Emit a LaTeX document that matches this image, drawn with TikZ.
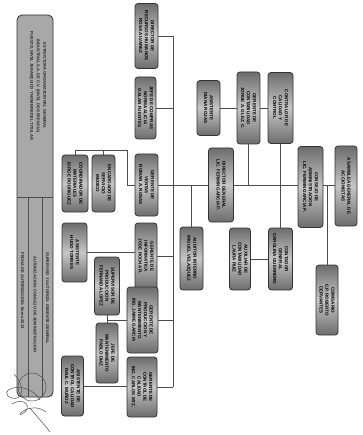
\documentclass[tikz,border=0pt]{standalone}
\usepackage{fontspec}
\setmainfont{Liberation Sans}
\usepackage{xcolor}
\colorlet{myedge}{black!80}
\colorlet{mydark}{gray!85!black}
\colorlet{mylight}{gray!45}
\colorlet{myline}{black!70}
\tikzset{
  caja/.style={rotate=-90,rounded corners=3pt,draw=myedge,thick,
    top color=mydark,bottom color=mydark,middle color=mylight,
    align=center,inner sep=1pt,text=black,
    font=\fontsize{4.5}{5.8}\selectfont\bfseries},
  marco/.style={rotate=-90,rounded corners=5pt,draw=myedge,thick,fill=gray!68},
  rotulo/.style={rotate=-90,align=center,inner sep=0.5pt,text=black!85,
    font=\fontsize{4}{6.5}\selectfont\bfseries},
  linea/.style={thick,myline},
  firma/.style={gray!60!black,line width=0.5pt}
}

\begin{document}
\begin{tikzpicture}[x=1pt,y=-1pt]
    \useasboundingbox (0,0) rectangle (362,435);
    % title block
    \node[marco,minimum width=382,minimum height=36] (bloque) at (35,206) {};
    \draw[linea] (17,197) -- (53,197);
    \draw[linea] (28,197) -- (28,397);
    \draw[linea] (42,197) -- (42,397);
    \node[rotulo] (titulo) at (38,86) {ESTRUCTURA ORGANIZACIONAL GENERAL\\INDUSTRIAL S.A. DE C.V. (NIVEL DE GERENCIA)\\PUESTO, NIVEL JERARQUICO Y NOMBRE DEL TITULAR};
    \node[rotulo,anchor=west] (superviso) at (47.5,252) {SUPERVISO Y AUTORIZO: GERENTE GENERAL};
    \node[rotulo,anchor=west] (autorizo) at (35,256) {AUTORIZACION: CONSEJO DE ADMINISTRACION};
    \node[rotulo,anchor=west] (fecha) at (22.5,252) {FECHA DE AUTORIZACION: Enero 2013};

    % top level
    \node[caja,minimum width=80,minimum height=22] (asamblea) at (346,186) {ASAMBLEA GENERAL DE\\ACCIONISTAS};
    \node[caja,minimum width=81,minimum height=25] (consejo) at (310.5,187) {CONSEJO DE\\ADMINISTRACION\\LIC. FERMIN GARCIA P.};
    \node[caja,minimum width=70,minimum height=22] (comisario) at (327,300) {COMISARIO\\C.P. ROBERTO\\CERVANTES};
    \node[caja,minimum width=74,minimum height=25] (dg) at (221,185) {DIRECTOR GENERAL\\LIC. FERMIN GARCIA P.};

    % staff
    \node[caja,minimum width=55,minimum height=23] (asist) at (208.5,108) {ASISTENTE\\DIANA ROJAS};
    \node[caja,minimum width=72,minimum height=23] (conta) at (248.5,108) {GERENTE DE\\CONTABILIDAD\\JORGE A. GLEZ. C.};
    \node[caja,minimum width=71,minimum height=25] (contral) at (280.5,108) {CONTRALOR DE\\CALIDAD Y\\CONTROL};
    \node[caja,minimum width=62,minimum height=24] (contador) at (280.5,259) {CONTADOR\\GENERAL\\CAROLINA GUERRERO};
    \node[caja,minimum width=62,minimum height=21] (auxconta) at (240,259) {AUXILIAR DE\\CONTABILIDAD\\LAURA RUIZ};
    \node[caja,minimum width=63,minimum height=23] (auditor) at (191.5,258.5) {AUDITOR INTERNO\\MIGUEL VELAZQUEZ};

    % managers
    \node[caja,minimum width=65,minimum height=23] (rh) at (146.5,36) {DIRECTOR DE\\RECURSOS HUMANOS\\ROSA ALVAREZ};
    \node[caja,minimum width=62,minimum height=21] (compras) at (145.5,108) {JEFE DE COMPRAS\\NORMA ALICIA\\GALAN FUENTES};
    \node[caja,minimum width=62,minimum height=23] (ventas) at (146.5,185) {GERENTE DE\\VENTAS\\ROMAN A. ROSAS};
    \node[caja,minimum width=67,minimum height=22] (informatica) at (146,256.5) {GERENTE DE\\INFORMATICA\\JOSE ROCHA R.};
    \node[caja,minimum width=66,minimum height=31] (produccion) at (142.5,320) {GERENTE DE\\PRODUCCION Y\\MANTENIMIENTO\\ING. JAIME GARCIA};
    \node[caja,minimum width=60,minimum height=30] (calidad) at (142,387) {GERENTE DE\\CONTROL DE\\CALIDAD\\ING. CARLOS MTZ.};

    % lower level
    \node[caja,minimum width=57,minimum height=26] (recmat) at (75,183.5) {COORDINADOR DE\\MATERIALES\\JORGE RODRIGUEZ};
    \node[caja,minimum width=57,minimum height=23] (medico) at (103.5,183.5) {ENCARGADO DE\\SERVICIO\\MEDICO};
    \node[caja,minimum width=59,minimum height=25] (asisinf) at (74.5,252.5) {ASISTENTE\\HUGO TORRES};
    \node[caja,minimum width=58,minimum height=25] (superv) at (107,286) {SUPERVISOR DE\\PRODUCCION\\FERNANDA LOPEZ};
    \node[caja,minimum width=60,minimum height=22] (mantto) at (107,353) {JEFE DE\\MANTENIMIENTO\\PABLO DIAZ};
    \node[caja,minimum width=60,minimum height=22] (asiscal) at (72.5,386) {ASISTENTE DE\\CONTROL CALIDAD\\RAUL C. MU\~NOZ};

    % connectors
    \coordinate (eje) at (0,185);
    \coordinate (troncoA) at (173,36);
    \coordinate (troncoB) at (173,387);
    \coordinate (rama) at (127,150);
    \coordinate (ramaP) at (107,320);
    \draw[linea] (troncoA) -- (troncoB);
    \draw[linea] (rh.north) -- (rh.north -| troncoA);
    \draw[linea] (compras.north) -- (compras.north -| troncoA);
    \draw[linea] (informatica.north) -- (informatica.north -| troncoA);
    \draw[linea] (produccion.north) -- (produccion.north -| troncoA);
    \draw[linea] (calidad.north) -- (calidad.north -| troncoA);
    \draw[linea] (ventas.north) -- (dg.south);
    \draw[linea] (dg.north) -- (consejo.south |- eje);
    \draw[linea] (consejo.north |- eje) -- (asamblea.south |- eje);
    \draw[linea] (comisario.west) -- (comisario.west |- eje);
    \draw[linea] (auditor.west) -- (auditor.west |- eje);
    \draw[linea] (conta.east) -- (conta.east |- eje);
    \draw[linea] (contral.east) -- (contador.west);
    \draw[linea] (auxconta.north) -- (contador.south);
    \draw[linea] (asist.north) -- (conta.south);
    \draw[linea] (conta.north) -- (contral.south);
    \draw[linea] (ventas.south) -| (rama) -| (recmat.west);
    \draw[linea] (medico.west) -- (medico.west |- rama);
    \draw[linea] (asisinf.north) -- (asisinf.north -| informatica.south);
    \draw[linea] (produccion.south) -- (ramaP);
    \draw[linea] (superv.east) -- (mantto.west);
    \draw[linea] (asiscal.north) -- (asiscal.north -| calidad.south);

    % signature
    \draw[firma] (32,387) circle (14);
    \draw[firma] (14,374) .. controls (30,392) and (18,404) .. (8,396) .. controls (0,388) and (28,380) .. (40,400);
    \draw[firma] (12,404) .. controls (24,396) and (34,408) .. (22,414) .. controls (14,418) and (30,400) .. (46,412);
    \draw[firma] (30,408) .. controls (38,418) and (44,424) .. (50,432);
\end{tikzpicture}
\end{document}
